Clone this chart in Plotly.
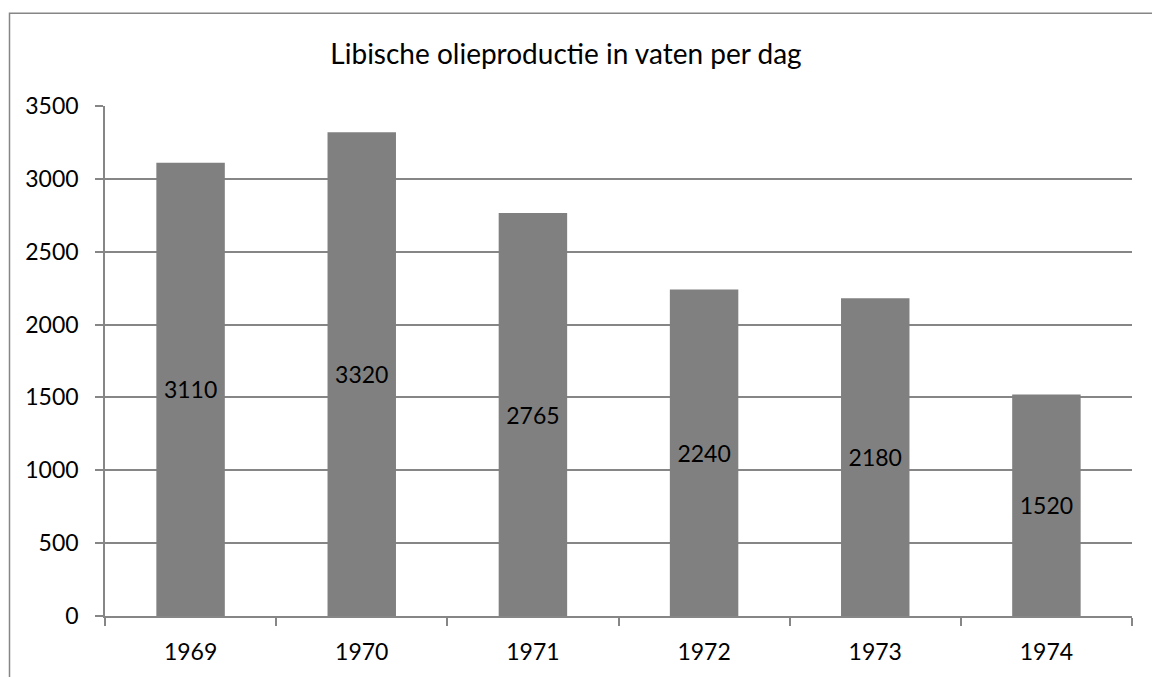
import plotly.graph_objects as go

years = ["1969", "1970", "1971", "1972", "1973", "1974"]
production = [3110, 3320, 2765, 2240, 2180, 1520]
y_ticks = [0, 500, 1000, 1500, 2000, 2500, 3000, 3500]
title_text = "Libische olieproductie in vaten per dag"

FONT = "Lato, 'Open Sans', Arial, sans-serif"
GRID = "#868686"
# page body has an 8px margin, so the figure is laid out 8px smaller
W, H = 1152, 669
ML, MR, MT, MB = 97, 28, 98, 59
PW, PH = W - ML - MR, H - MT - MB

fig = go.Figure(
    go.Bar(
        x=years,
        y=production,
        marker=dict(color="#808080", line=dict(width=0)),
        text=[str(v) for v in production],
        textposition="inside",
        insidetextanchor="middle",
        textangle=0,
        textfont=dict(family=FONT, size=23, color="#000000"),
        hoverinfo="x+y",
    )
)

fig.update_layout(
    width=W,
    height=H,
    margin=dict(l=ML, r=MR, t=MT, b=MB, pad=0),
    paper_bgcolor="white",
    plot_bgcolor="white",
    bargap=0.6,
    showlegend=False,
    font=dict(family=FONT, size=23, color="#000000"),
    title=dict(
        text=title_text,
        x=558 / W,
        xref="container",
        xanchor="center",
        y=1 - 46 / H,
        yref="container",
        yanchor="middle",
        font=dict(family=FONT, size=28, color="#000000"),
    ),
    shapes=[
        dict(
            type="rect",
            xref="paper",
            yref="paper",
            x0=(1.5 - ML) / PW,
            x1=(W + 20 - ML) / PW,
            y0=-(MB + 20) / PH,
            y1=(H - MB - 5) / PH,
            line=dict(color=GRID, width=1.5),
            fillcolor="rgba(0,0,0,0)",
            layer="below",
        )
    ],
)

fig.update_xaxes(
    type="category",
    showgrid=False,
    showline=True,
    linecolor=GRID,
    linewidth=1.5,
    ticks="outside",
    tickson="boundaries",
    ticklen=8,
    tickcolor=GRID,
    tickwidth=1.5,
    ticklabelstandoff=15,
    tickfont=dict(family=FONT, size=23, color="#000000"),
)

fig.update_yaxes(
    range=[0, 3500],
    tickvals=y_ticks,
    ticktext=[str(v) for v in y_ticks],
    showgrid=True,
    gridcolor=GRID,
    gridwidth=1.5,
    zeroline=False,
    showline=True,
    linecolor=GRID,
    linewidth=1.5,
    ticks="outside",
    ticklen=8,
    tickcolor=GRID,
    tickwidth=1.5,
    ticklabelstandoff=12,
    tickfont=dict(family=FONT, size=23, color="#000000"),
)

fig.write_html("out.html")
